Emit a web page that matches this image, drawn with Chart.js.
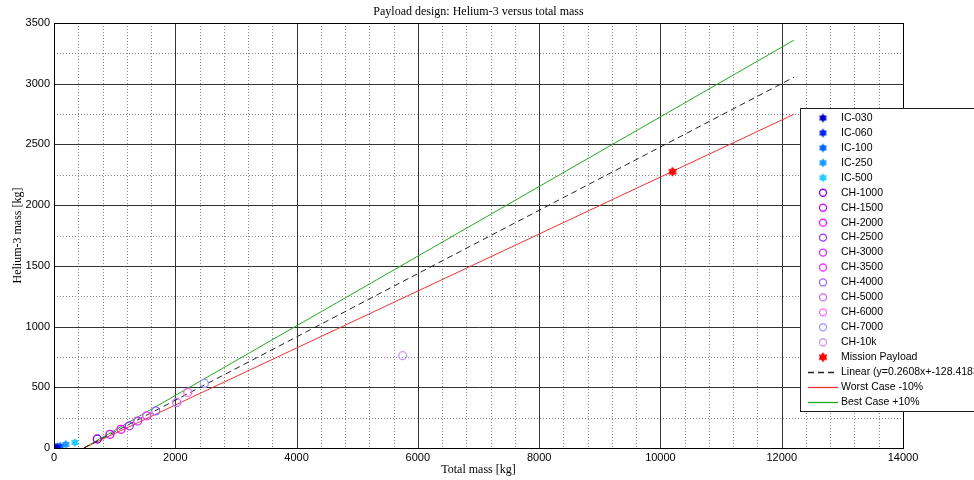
<!DOCTYPE html>
<html><head><meta charset="utf-8">
<script src="https://cdn.jsdelivr.net/npm/chart.js@4/dist/chart.umd.min.js"></script>
<style>html,body{margin:0;padding:0;background:#fff}canvas{display:block}</style>
</head><body>
<div style="width:974px;height:480px"><canvas id="c" width="974" height="480"></canvas></div>
<script>
// ---- data ----
const icLabels = ['IC-030','IC-060','IC-100','IC-250','IC-500'];
const icX = [30, 60, 100, 195, 345];
const icY = [4, 8, 14, 30, 45];
const icColors = ['#0000cc','#0022ee','#0066ff','#1a99ff','#22ccff'];

const chLabels = ['CH-1000','CH-1500','CH-2000','CH-2500','CH-3000','CH-3500','CH-4000','CH-5000','CH-6000','CH-7000','CH-10k'];
const chX = [714, 923, 1105, 1242, 1380, 1529, 1677, 2023, 2205, 2479, 5750];
const chY = [74, 113, 154, 183, 222, 265, 306, 375, 458, 532, 760];
const chColors = ['#8800ee','#cc00ff','#ff00ff','#9933ff','#cc33ff','#ff33ff','#9966ff','#cc66ff','#ff66ff','#9999ff','#cc99ff'];

const missionX = [10200];
const missionY = [2276];

const fitX = [492, 12200];
const linearY = [0, 3053];
const worstY = [0, 2748];
const bestY = [0, 3358];

const xTicks = [0,2000,4000,6000,8000,10000,12000,14000];
const yTicks = [0,500,1000,1500,2000,2500,3000,3500];

const titleText = 'Payload design: Helium-3 versus total mass';
const xTitle = 'Total mass [kg]';
const yTitle = 'Helium-3 mass [kg]';
const linearLabel = 'Linear (y=0.2608x+-128.4183)';

// ---- marker images ----
function starImg(color, r){
  const s = Math.ceil(r*2+2);
  const c = document.createElement('canvas'); c.width = s; c.height = s;
  const g = c.getContext('2d'); g.fillStyle = color; g.beginPath();
  for(let i=0;i<12;i++){
    const a = -Math.PI/2 + i*Math.PI/6;
    const rr = (i%2) ? r*0.65 : r;
    g.lineTo(s/2 + rr*Math.cos(a), s/2 + rr*Math.sin(a));
  }
  g.closePath(); g.fill();
  return c;
}

const datasets = [];
icLabels.forEach((l,i)=>{
  datasets.push({label:l, type:'scatter', data:[{x:icX[i], y:icY[i]}],
    pointStyle: starImg(icColors[i], 4.5), pointRadius:5, kind:'star', order:1});
});
chLabels.forEach((l,i)=>{
  datasets.push({label:l, type:'scatter', data:[{x:chX[i], y:chY[i]}],
    pointStyle:'circle', pointRadius:4, borderColor:chColors[i], backgroundColor:'rgba(0,0,0,0)',
    borderWidth:1.3, kind:'circle', order:1});
});
datasets.push({label:'Mission Payload', type:'scatter', data:[{x:missionX[0], y:missionY[0]}],
  pointStyle: starImg('#ff0000', 5), pointRadius:5, kind:'star', order:1});
datasets.push({label:linearLabel, type:'line', data: fitX.map((x,i)=>({x, y:linearY[i]})),
  borderColor:'#222', borderWidth:1, borderDash:[6,4], pointRadius:0, kind:'line', order:2});
datasets.push({label:'Worst Case -10%', type:'line', data: fitX.map((x,i)=>({x, y:worstY[i]})),
  borderColor:'#ee3333', borderWidth:1, pointRadius:0, kind:'line', order:2});
datasets.push({label:'Best Case +10%', type:'line', data: fitX.map((x,i)=>({x, y:bestY[i]})),
  borderColor:'#22aa22', borderWidth:1, pointRadius:0, kind:'line', order:2});

const serif = '"Liberation Serif", "DejaVu Serif", serif';
const sans = '"Liberation Sans", Arial, sans-serif';

const gridPlugin = {
  id:'grid',
  beforeDatasetsDraw(chart){
    const {ctx, chartArea:a, scales:{x, y}} = chart;
    ctx.save();
    ctx.lineWidth = 1;
    ctx.strokeStyle = '#888'; ctx.setLineDash([1,2]);
    for(let i=0;i<xTicks.length-1;i++){
      const st = (xTicks[i+1]-xTicks[i])/5;
      for(let k=1;k<5;k++){
        const px = Math.round(x.getPixelForValue(xTicks[i]+k*st))+0.5;
        ctx.beginPath(); ctx.moveTo(px,a.top); ctx.lineTo(px,a.bottom); ctx.stroke();
      }
    }
    for(let i=0;i<yTicks.length-1;i++){
      const v = (yTicks[i]+yTicks[i+1])/2;
      const py = Math.round(y.getPixelForValue(v))+0.5;
      ctx.beginPath(); ctx.moveTo(a.left,py); ctx.lineTo(a.right,py); ctx.stroke();
    }
    ctx.setLineDash([]); ctx.strokeStyle = '#333';
    xTicks.forEach(v=>{ const px = Math.round(x.getPixelForValue(v))+0.5;
      ctx.beginPath(); ctx.moveTo(px,a.top); ctx.lineTo(px,a.bottom); ctx.stroke(); });
    yTicks.forEach(v=>{ const py = Math.round(y.getPixelForValue(v))+0.5;
      ctx.beginPath(); ctx.moveTo(a.left,py); ctx.lineTo(a.right,py); ctx.stroke(); });
    ctx.restore();
  },
  afterDatasetsDraw(chart){
    const {ctx, chartArea:a} = chart;
    ctx.save(); ctx.strokeStyle='#000'; ctx.lineWidth=1;
    ctx.strokeRect(Math.round(a.left)+0.5, Math.round(a.top)+0.5, Math.round(a.right-a.left), Math.round(a.bottom-a.top));
    ctx.restore();
  },
  afterDraw(chart){
    const {ctx, chartArea:a} = chart;
    ctx.save();
    ctx.fillStyle = '#000';
    ctx.font = '12px ' + serif;
    ctx.textAlign = 'center'; ctx.textBaseline = 'middle';
    ctx.fillText(titleText, (a.left+a.right)/2, 12);
    ctx.fillText(xTitle, (a.left+a.right)/2, 470);
    ctx.save(); ctx.translate(18, (a.top+a.bottom)/2); ctx.rotate(-Math.PI/2);
    ctx.fillText(yTitle, 0, 0); ctx.restore();

    const lx = 800, ly = 108, lh = 303;
    ctx.fillStyle = '#fff'; ctx.fillRect(lx, ly, 200, lh);
    ctx.strokeStyle = '#222'; ctx.lineWidth = 1;
    ctx.strokeRect(lx+0.5, ly+0.5, 200, lh);
    ctx.font = '10.5px ' + sans; ctx.textAlign = 'left'; ctx.textBaseline = 'middle';
    chart.data.datasets.forEach((d,i)=>{
      const cy = 118 + i*14.95;
      const mx = 823;
      if(d.kind==='star'){
        const img = d.pointStyle;
        ctx.drawImage(img, mx - img.width/2, cy - img.height/2);
      } else if(d.kind==='circle'){
        ctx.strokeStyle = d.borderColor; ctx.lineWidth = 1.3;
        ctx.beginPath(); ctx.arc(mx, cy, 3.5, 0, Math.PI*2); ctx.stroke();
      } else {
        ctx.strokeStyle = d.borderColor; ctx.lineWidth = 1.3;
        ctx.setLineDash(d.borderDash || []);
        const yy = Math.round(cy) + 0.5;
        ctx.beginPath(); ctx.moveTo(808, yy); ctx.lineTo(838, yy); ctx.stroke();
        ctx.setLineDash([]);
      }
      ctx.fillStyle = '#000';
      ctx.fillText(d.label, 841, cy);
    });
    ctx.restore();
  }
};

new Chart(document.getElementById('c'), {
  data:{datasets},
  options:{
    responsive:false, animation:false,
    layout:{padding:{top:23, right:71, left:0, bottom:0}},
    plugins:{legend:{display:false}, tooltip:{enabled:false}, title:{display:false}},
    scales:{
      x:{type:'linear', min:0, max:14000,
        afterBuildTicks(s){ s.ticks = xTicks.map(v=>({value:v})); },
        afterFit(s){ s.height = 32; },
        grid:{display:false, drawTicks:false}, border:{display:false},
        ticks:{font:{family:sans, size:11}, color:'#000', padding:3, maxRotation:0, autoSkip:false,
          callback:(v)=>String(v)}},
      y:{type:'linear', min:0, max:3500,
        afterBuildTicks(s){ s.ticks = yTicks.map(v=>({value:v})); },
        afterFit(s){ s.width = 54; },
        grid:{display:false, drawTicks:false}, border:{display:false},
        ticks:{font:{family:sans, size:11}, color:'#000', padding:4, autoSkip:false,
          callback:(v)=>String(v)}}
    }
  },
  plugins:[gridPlugin]
});
</script>
</body></html>
